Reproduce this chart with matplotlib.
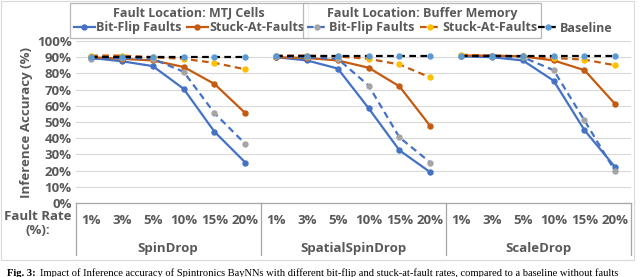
import matplotlib
matplotlib.use("Agg")
import matplotlib.pyplot as plt
from matplotlib.lines import Line2D
from matplotlib.patches import Rectangle

# data
rates = ['1%', '3%', '5%', '10%', '15%', '20%']
methods = ['SpinDrop', 'SpatialSpinDrop', 'ScaleDrop']

mtj_bitflip = [[89.5, 87.5, 84.5, 70.5, 44, 25],
               [90, 88, 83, 58.5, 32.5, 19],
               [90.5, 90, 88, 75.5, 45, 22]]
mtj_stuck = [[90, 89, 88, 84, 73.5, 55.5],
             [90, 89.5, 88, 83.5, 72, 47.5],
             [91, 91, 90.5, 88, 82, 61]]
buf_bitflip = [[89, 89.5, 89, 81, 55.5, 36.5],
               [90.5, 90, 89, 72.5, 40.5, 25],
               [91, 90.5, 90, 82, 51, 19.5]]
buf_stuck = [[91, 91, 90, 89, 86.5, 82.5],
             [91, 91, 90.5, 89, 85.5, 77.5],
             [91.5, 91, 90.5, 89.5, 88.5, 85]]
baseline = [[90, 90, 90, 90, 90, 90],
            [91, 91, 91, 91, 91, 91],
            [91, 91, 91, 91, 91, 91]]

yticks = [0, 10, 20, 30, 40, 50, 60, 70, 80, 90, 100]

BLUE = '#4472C4'
ORANGE = '#C55A11'
YELLOW = '#FFC000'
GRAY = '#A5A5A5'
LBLUE = '#5B9BD5'
TXT = '#595959'
FONT = 'Open Sans'
FS = 9.5

W, H = 640, 277
fig = plt.figure(figsize=(6.4, 2.77), dpi=100)

# axes placed in pixel terms
left, right, top, bottom = 75.7, 630.7, 41, 203
ax = fig.add_axes([left / W, 1 - bottom / H, (right - left) / W, (bottom - top) / H])

n = len(rates)
styles = [
    (mtj_bitflip, BLUE, '-', BLUE),
    (mtj_stuck, ORANGE, '-', ORANGE),
    (buf_bitflip, BLUE, (0, (3, 2)), GRAY),
    (buf_stuck, ORANGE, (0, (3, 2)), YELLOW),
    (baseline, 'black', (0, (3, 2)), LBLUE),
]
for g in range(len(methods)):
    xs = [g * n + i for i in range(n)]
    for vals, col, ls, mcol in styles:
        ax.plot(xs, vals[g], color=col, ls=ls, lw=1.6, marker='o', ms=3.6,
                mfc=mcol, mec=mcol, zorder=3)

ax.set_xlim(-0.5, len(methods) * n - 0.5)
ax.set_ylim(0, 100)
ax.set_yticks(yticks)
ax.set_yticklabels([f'{v}%' for v in yticks], fontsize=FS, color=TXT,
                   fontweight='bold', family=FONT)
ax.set_xticks(range(len(methods) * n))
ax.set_xticklabels(rates * len(methods), fontsize=FS, color=TXT,
                   fontweight='bold', family=FONT)
ax.tick_params(length=0, pad=3)
ax.tick_params(axis='x', pad=8)
ax.grid(axis='y', color='#D9D9D9', lw=0.8)
ax.set_axisbelow(True)
for s in ['top', 'right', 'left']:
    ax.spines[s].set_visible(False)
ax.spines['bottom'].set_color('#A6A6A6')
ax.spines['bottom'].set_linewidth(0.9)

# group separators under the axis
for xsep in [-0.5, n - 0.5, 2 * n - 0.5, 3 * n - 0.5]:
    ax.axvline(xsep, ymin=-0.32, ymax=0, color='#A6A6A6', lw=0.9, clip_on=False)
for g, m in enumerate(methods):
    ax.text(g * n + (n - 1) / 2, -0.28, m, transform=ax.get_xaxis_transform(),
            ha='center', va='center', fontsize=FS, color=TXT, fontweight='bold', family=FONT)

ax.set_ylabel('Inference Accuracy (%)', fontsize=FS, color=TXT, fontweight='bold',
              family=FONT, labelpad=3)
fig.text(38 / W, 1 - 223 / H, 'Fault Rate\n(%):', ha='center', va='center', fontsize=FS,
         color=TXT, fontweight='bold', family=FONT, linespacing=1.1)

# outer chart border
fig.patches.append(Rectangle((1 / W, 1 - 260 / H), 633 / W, 259 / H, transform=fig.transFigure,
                             fill=False, ec='#D9D9D9', lw=0.8))

# legends
def handle(col, ls, mcol):
    return Line2D([], [], color=col, ls=ls, lw=1.6, marker='o', ms=3.6, mfc=mcol, mec=mcol)

prop = {'family': FONT, 'weight': 'bold', 'size': 9}
tprop = {'family': FONT, 'weight': 'bold', 'size': 9}
lkw = dict(ncol=2, title_fontproperties=tprop, prop=prop, frameon=True, fancybox=False,
           handlelength=1.7, handletextpad=0.1, columnspacing=0.4, borderpad=0.3,
           labelspacing=0.1, borderaxespad=0)
leg1 = fig.legend([handle(BLUE, '-', BLUE), handle(ORANGE, '-', ORANGE)],
                  ['Bit-Flip Faults', 'Stuck-At-Faults'], title='Fault Location: MTJ Cells',
                  loc='upper left', bbox_to_anchor=(70 / W, 1 - 3 / H), **lkw)
leg2 = fig.legend([handle(BLUE, (0, (3, 2)), GRAY), handle(ORANGE, (0, (3, 2)), YELLOW)],
                  ['Bit-Flip Faults', 'Stuck-At-Faults'], title='Fault Location: Buffer Memory',
                  loc='upper left', bbox_to_anchor=(303 / W, 1 - 3 / H), **lkw)
leg3 = fig.legend([handle('black', (0, (3, 2)), LBLUE)], ['Baseline'], loc='upper left',
                  bbox_to_anchor=(535 / W, 1 - 19 / H), frameon=False, prop=prop,
                  handlelength=1.7, handletextpad=0.1, borderpad=0.2, borderaxespad=0)
for leg in [leg1, leg2]:
    leg.get_frame().set_edgecolor('#A6A6A6')
    leg.get_frame().set_linewidth(0.9)
    leg.get_title().set_color(TXT)
for leg in [leg1, leg2, leg3]:
    for t in leg.get_texts():
        t.set_color(TXT)

# caption
cap_y = 1 - 273 / H
fig.text(7 / W, cap_y, 'Fig. 3:', fontsize=7.6, family='Liberation Serif', fontweight='bold',
         va='center', ha='left')
fig.text(40 / W, cap_y,
         'Impact of Inference accuracy of Spintronics BayNNs with different bit-flip and '
         'stuck-at-fault rates, compared to a baseline without faults',
         fontsize=7.6, family='Liberation Serif', va='center', ha='left')

fig.savefig('out.png', dpi=100)
